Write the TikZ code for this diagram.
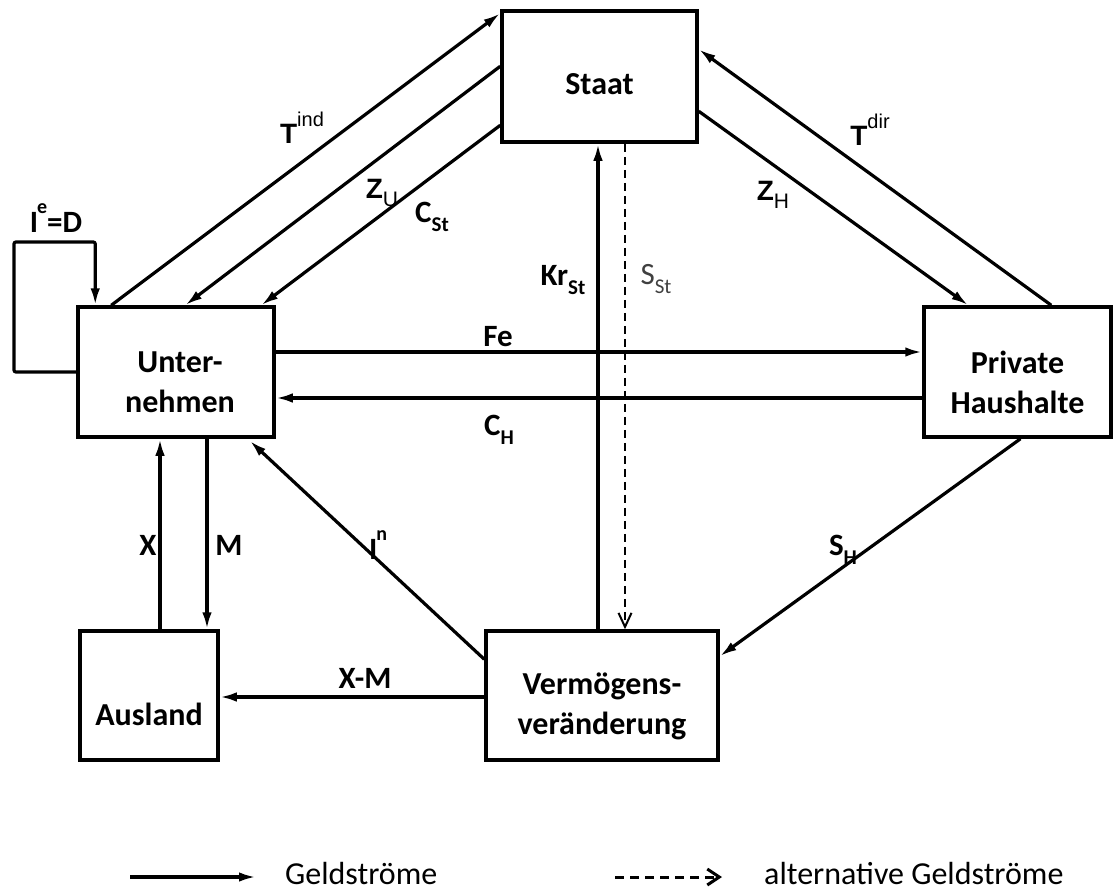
\documentclass[tikz,border=0pt]{standalone}
\usepackage{fontspec}
\setmainfont{Carlito}
\newfontfamily\ari{Liberation Sans}
\usetikzlibrary{arrows.meta}
\newcommand{\lsub}[1]{\raisebox{-0.28em}{\fontsize{21}{21}\selectfont #1}}
\newcommand{\lsup}[1]{\raisebox{0.6em}{\fontsize{20}{20}\selectfont #1}}
\begin{document}
\begin{tikzpicture}[x=1pt,y=-1pt,
  box/.style={draw,line width=3.5pt,minimum width=#1,inner sep=0pt},
  boxtext/.style={inner sep=0pt,align=center,font=\fontsize{32}{40}\selectfont\bfseries},
  lab/.style={inner sep=0pt,font=\fontsize{31}{36}\selectfont\bfseries},
  alab/.style={inner sep=0pt,font=\fontsize{28}{32}\selectfont\ari\bfseries},
  arr/.style={line width=3.2pt,-{Latex[length=17pt,width=9.5pt]}},
  darr/.style={line width=2pt,dash pattern=on 8pt off 5pt,-{Straight Barb[length=14pt,width=13pt,line width=2pt]}},
  leg/.style={inner sep=0pt,anchor=west,font=\fontsize{32}{36}\selectfont}
]
\useasboundingbox (0,0) rectangle (1113,891);
% boxes
\node[box=195pt,minimum height=131pt] (staat) at (599.5,76.5) {};
\node[box=196pt,minimum height=130pt] (unt) at (176,372) {};
\node[box=187pt,minimum height=130pt] (ph) at (1017.5,372) {};
\node[box=138pt,minimum height=129pt] (aus) at (149,695.5) {};
\node[box=232pt,minimum height=129pt] (verm) at (602,695.5) {};
\node[boxtext] (staat-t) at ([yshift=-8pt]staat.center) {Staat};
\node[boxtext] (unt-t) at ([xshift=4pt,yshift=-10pt]unt.center) {Unter-\\nehmen};
\node[boxtext] (ph-t) at ([yshift=-10pt]ph.center) {Private\\Haushalte};
\node[boxtext] (aus-t) at ([yshift=-19pt]aus.center) {Ausland};
\node[boxtext] (verm-t) at ([yshift=-11pt]verm.center) {Vermögens-\\veränderung};
% connectors Unternehmen - Staat
\draw[arr] ([xshift=35pt]unt.north west) -- ([yshift=-4pt]staat.north west);
\draw[arr] ([yshift=-57pt]staat.north west) -- ([xshift=109pt]unt.north west);
\draw[arr] ([yshift=-116pt]staat.north west) -- ([xshift=185pt]unt.north west);
% loop
\coordinate (loopc) at (14,242);
\draw[arr,rounded corners=2pt] (unt.west) -| (loopc) -| ([xshift=19pt]unt.north west);
% Staat - Haushalte
\draw[arr] ([yshift=-102pt]staat.north east) -- ([xshift=46pt]ph.north west);
\draw[arr] ([xshift=129pt]ph.north west) -- ([yshift=-40pt]staat.north east);
% Fe and C_H
\draw[arr] ([yshift=20pt]unt.east) -- ([yshift=20pt]ph.west);
\draw[arr] ([yshift=-26pt]ph.west) -- ([yshift=-26pt]unt.east);
% Kr_St and S_St
\draw[arr] ([xshift=-4pt]verm.north) -- ([xshift=-1.5pt]staat.south);
\draw[darr] ([xshift=25.5pt]staat.south) -- ([xshift=23pt]verm.north);
% S_H
\draw[arr] ([xshift=3pt]ph.south) -- ([yshift=-27pt]verm.north east);
% I^n
\draw[arr] ([yshift=-30pt]verm.north west) -- ([xshift=-26pt,yshift=-2pt]unt.south east);
% X and M
\draw[arr] ([xshift=11pt]aus.north) -- ([xshift=-16pt]unt.south);
\draw[arr] ([xshift=31pt]unt.south) -- ([xshift=58pt]aus.north);
% X-M
\draw[arr] ([yshift=-1.5pt]verm.west) -- ([yshift=-1.5pt]aus.east);
% labels
\node[alab] (ltind) at (302,128) {T\lsup{\ari\mdseries ind}};
\node[alab] (lzu) at (382,193) {Z\lsub{\ari\mdseries U}};
\node[lab] (lcst) at (432,217) {C\lsub{St}};
\node[alab] (lzh) at (773,195) {Z\lsub{\ari\mdseries H}};
\node[alab] (ltdir) at (870,130) {T\lsup{\ari\mdseries dir}};
\node[lab] (lkr) at (563,280) {Kr\lsub{St}};
\node[lab,font=\fontsize{31}{36}\selectfont,text=black!75] (lsst) at (656,279) {S\lsub{St}};
\node[lab] (lfe) at (498,337) {Fe};
\node[lab] (lch) at (499,430) {C\lsub{H}};
\node[lab] (lied) at (56,218) {I\kern-1pt\lsup{e}=D};
\node[lab] (lx) at (148,545) {X};
\node[lab] (lm) at (229,545) {M};
\node[lab] (lin) at (378,545) {I\kern-1pt\lsup{n}};
\node[lab] (lsh) at (843,550) {S\lsub{H}};
\node[lab] (lxm) at (365,678) {X-M};
% legend
\coordinate (g1) at (130,877);
\coordinate (g2) at (256,877);
\draw[arr] (g1) -- (g2);
\node[leg] (lg1) at (285,873) {Geldströme};
\coordinate (d1) at (615,877);
\coordinate (d2) at (722,877);
\draw[line width=3pt,dash pattern=on 9pt off 6pt,-{Straight Barb[length=12pt,width=16pt,line width=3pt]}] (d1) -- (d2);
\node[leg] (lg2) at (764,873) {alternative Geldströme};
\end{tikzpicture}
\end{document}
